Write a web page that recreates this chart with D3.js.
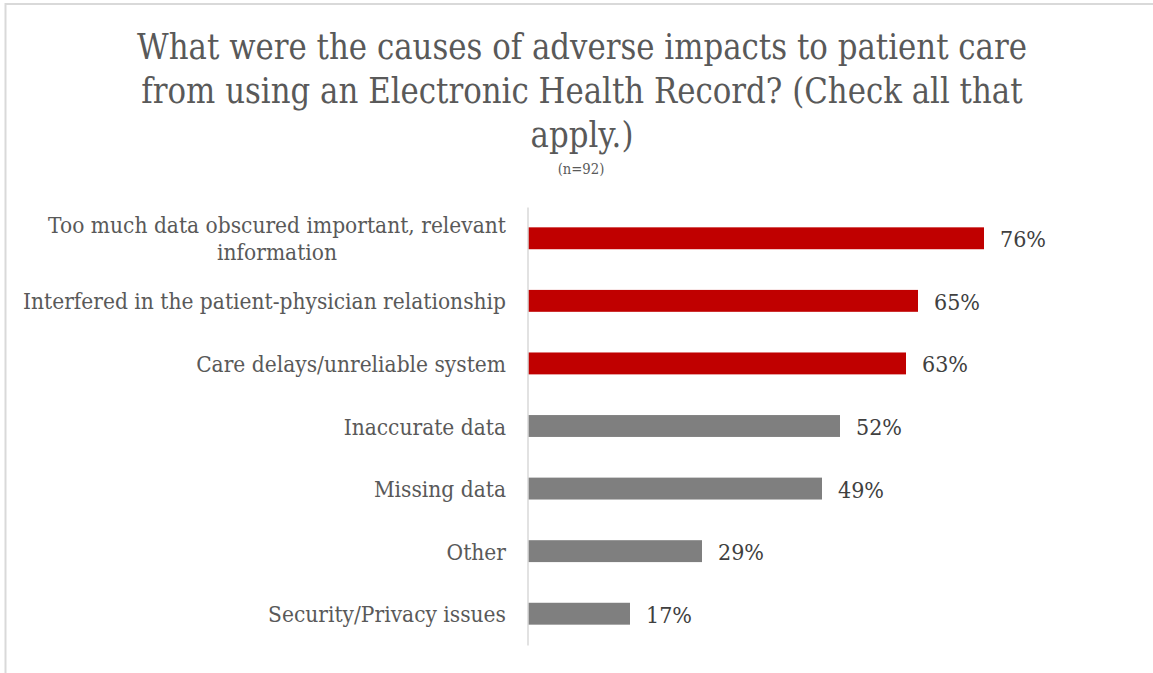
<!DOCTYPE html>
<html><head><meta charset="utf-8">
<script src="https://cdn.jsdelivr.net/npm/d3@7"></script>
<style>body{margin:0;background:#fff} svg{display:block}</style>
</head><body>
<svg id="c" width="1153" height="673"></svg>
<script>
// ---- data ----
const titleLines = ["What were the causes of adverse impacts to patient care",
                    "from using an Electronic Health Record? (Check all that",
                    "apply.)"];
const subtitle = "(n=92)";
const categories = ["Too much data obscured important, relevant information",
                    "Interfered in the patient-physician relationship",
                    "Care delays/unreliable system",
                    "Inaccurate data",
                    "Missing data",
                    "Other",
                    "Security/Privacy issues"];
const categoryLines = [["Too much data obscured important, relevant", "information"],
                       ["Interfered in the patient-physician relationship"],
                       ["Care delays/unreliable system"],
                       ["Inaccurate data"],
                       ["Missing data"],
                       ["Other"],
                       ["Security/Privacy issues"]];
const values = [0.76, 0.65, 0.63, 0.52, 0.49, 0.29, 0.17];
const highlighted = [true, true, true, false, false, false, false];

// ---- drawing ----
const svg = d3.select("#c");
const FONT = "'DejaVu Serif', 'Liberation Serif', serif";
const TXT = "#595959";

// chart border
svg.append("rect").attr("x", 5.5).attr("y", 4).attr("width", 1200).attr("height", 700)
  .attr("fill", "none").attr("stroke", "#d9d9d9").attr("stroke-width", 2);

function condense(sel, k) {
  sel.each(function () {
    const w = this.getComputedTextLength();
    d3.select(this).attr("textLength", w * k).attr("lengthAdjust", "spacingAndGlyphs");
  });
}

// title (start-anchored, centred manually so textLength behaves)
const title = svg.append("g").attr("font-family", FONT).attr("fill", TXT);
const tl = title.selectAll("text").data(titleLines).join("text")
  .attr("y", (d, i) => 59 + i * 44)
  .attr("font-size", 35).text(d => d);
const kTitle = 890 / tl.nodes()[0].getComputedTextLength();
tl.each(function () {
  const w = this.getComputedTextLength() * kTitle;
  d3.select(this).attr("textLength", w).attr("lengthAdjust", "spacingAndGlyphs").attr("x", 582 - w / 2);
});
const st = title.append("text").attr("y", 174).attr("font-size", 15).text(subtitle);
{
  const w = st.node().getComputedTextLength() * kTitle;
  st.attr("textLength", w).attr("lengthAdjust", "spacingAndGlyphs").attr("x", 581 - w / 2);
}

// scales
const x = d3.scaleLinear().domain([0, 0.8]).range([528, 1008]);
const y = d3.scaleBand().domain(categories).range([207, 645]).paddingInner(0.65).paddingOuter(0.325);

// bars
const data = categories.map((c, i) => ({c, v: values[i], h: highlighted[i], lines: categoryLines[i]}));
svg.append("g").selectAll("rect").data(data).join("rect")
  .attr("x", x(0)).attr("y", d => y(d.c))
  .attr("width", d => x(d.v) - x(0)).attr("height", y.bandwidth())
  .attr("fill", d => d.h ? "#C00000" : "#7F7F7F");

// axis
const ax = svg.append("g").attr("transform", `translate(${x(0) - 0.5},0)`)
  .call(d3.axisLeft(y).tickSize(0).tickFormat(""));
ax.select(".domain").attr("stroke", "#d9d9d9").attr("stroke-width", 1.5);

// category labels
const labG = svg.append("g").attr("font-family", FONT).attr("fill", TXT).attr("font-size", 21.5);
let kLab = 1;
{
  const probe = labG.append("text").text(categoryLines[1][0]);
  kLab = 483 / probe.node().getComputedTextLength();
  probe.remove();
}
data.forEach(d => {
  const cy = y(d.c) + y.bandwidth() / 2;
  const n = d.lines.length;
  const texts = d.lines.map((line, j) => labG.append("text")
    .attr("y", cy + 8.5 + (j - (n - 1) / 2) * 27)
    .text(line));
  const widths = texts.map(t => t.node().getComputedTextLength() * kLab);
  texts.forEach((t, j) => t.attr("textLength", widths[j]).attr("lengthAdjust", "spacingAndGlyphs"));
  const maxW = d3.max(widths);
  const right = x(0) - 22;
  texts.forEach((t, j) => t.attr("x", right - maxW + (maxW - widths[j]) / 2));
});

// value labels
const vl = svg.append("g").attr("font-family", FONT).attr("fill", "#404040").attr("font-size", 22)
  .selectAll("text").data(data).join("text")
  .attr("x", d => x(d.v) + 16)
  .attr("y", d => y(d.c) + y.bandwidth() / 2 + 9)
  .text(d => d3.format(".0%")(d.v));
condense(vl, kLab);
</script>
</body></html>
